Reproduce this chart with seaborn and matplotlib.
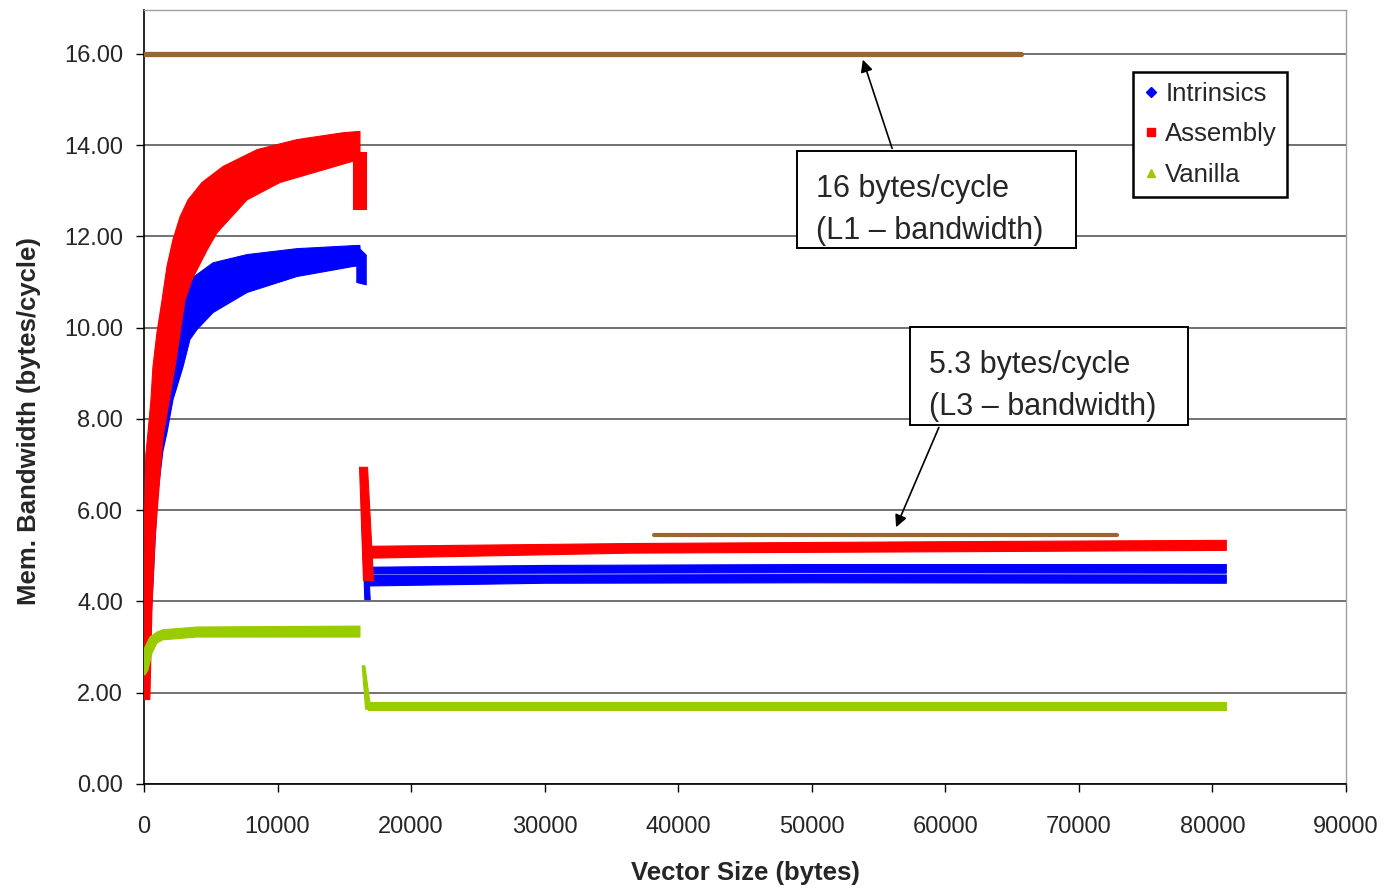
import matplotlib
matplotlib.use("Agg")
import matplotlib.pyplot as plt
import seaborn as sns
import pandas as pd
from matplotlib.patches import Rectangle
from matplotlib.lines import Line2D

# values: vector size (bytes) -> bandwidth (bytes/cycle)
# each series is a dense cloud of points, kept here as its upper / lower edge

# Intrinsics
intr_hi_x = [0, 300, 1000, 2000, 3000, 3670, 5170, 7710, 11450, 15950, 16170]
intr_hi_y = [4.5, 7.4, 9.4, 10.5, 10.9, 11.1, 11.42, 11.6, 11.73, 11.8, 11.8]
intr_lo_x = [0, 300, 600, 1000, 1420, 1720, 2170, 2920, 3440, 3970, 5170, 7710, 11450, 15650, 16170]
intr_lo_y = [2.05, 2.3, 4.0, 6.3, 7.3, 7.7, 8.42, 9.14, 9.74, 9.96, 10.33, 10.77, 11.12, 11.34, 11.36]
intr_tail_x = [15900, 16600]
intr_tail_lo = [11.0, 10.95]
intr_tail_hi = [11.8, 11.6]
intr_drop_y = [4.05, 5.95]
intr_drop_left = [16500, 16250]
intr_drop_right = [16900, 16550]
intr_flat_x = [16700, 30000, 50000, 81000]
intr_flat_lo1 = [4.35, 4.41, 4.42, 4.41]
intr_flat_hi1 = [4.59, 4.59, 4.60, 4.59]
intr_flat_lo2 = [4.62, 4.63, 4.64, 4.63]
intr_flat_hi2 = [4.76, 4.80, 4.82, 4.82]

# Assembly
asm_hi_x = [0, 50, 130, 300, 520, 670, 970, 1350, 1720, 2170, 2700, 3300, 4340, 5910, 8460, 11450, 14900, 16170]
asm_hi_y = [5.0, 6.0, 7.2, 7.7, 8.42, 9.14, 9.89, 10.6, 11.34, 11.93, 12.43, 12.8, 13.18, 13.53, 13.9, 14.12, 14.27, 14.3]
asm_lo_x = [0, 430, 450, 600, 820, 1420, 2320, 3070, 3590, 4720, 5470, 7710, 10180, 13930, 15570, 16170]
asm_lo_y = [1.85, 1.85, 2.0, 3.9, 5.35, 7.6, 9.14, 10.6, 11.05, 11.7, 12.08, 12.8, 13.18, 13.5, 13.64, 13.7]
asm_tail_x = [15650, 16600]
asm_tail_lo = [12.6, 12.6]
asm_tail_hi = [13.85, 13.85]
asm_drop_y = [4.47, 6.95]
asm_drop_left = [16400, 16100]
asm_drop_right = [17150, 16700]
asm_flat_x = [17000, 36400, 60000, 81000]
asm_flat_lo = [4.96, 5.07, 5.10, 5.13]
asm_flat_hi = [5.22, 5.28, 5.32, 5.35]

# Vanilla
van_hi_x = [0, 70, 450, 970, 1420, 3970, 16170]
van_hi_y = [2.9, 3.0, 3.22, 3.33, 3.38, 3.44, 3.46]
van_lo_x = [0, 70, 300, 600, 970, 1420, 3970, 16170]
van_lo_y = [2.4, 2.39, 2.5, 2.87, 3.09, 3.16, 3.22, 3.22]
van_drop_y = [1.65, 2.6]
van_drop_left = [16550, 16300]
van_drop_right = [16950, 16500]
van_flat_x = [16800, 81000]
van_flat_lo = [1.62, 1.62]
van_flat_hi = [1.80, 1.80]

# reference bandwidth lines
l1_x = [0, 65660]
l1_y = [16.0, 16.0]
l3_x = [38180, 72850]
l3_y = [5.46, 5.46]

series_names = ["Intrinsics", "Assembly", "Vanilla"]
colors = {"Intrinsics": "#0000FF", "Assembly": "#FF0000", "Vanilla": "#99CC00"}
brown = "#996633"

sns.set_theme(style="white")
plt.rcParams["font.family"] = ["Liberation Sans", "DejaVu Sans"]

fig = plt.figure(figsize=(13.88, 8.89), dpi=100)
ax = fig.add_axes([144 / 1388, 1 - 784 / 889, 1202 / 1388, 774 / 889])


def cloud(hx, hy, lx, ly, c, z):
    # outline: upper edge left to right, lower edge back
    ax.fill(list(hx) + list(lx)[::-1], list(hy) + list(ly)[::-1], color=c, lw=0.8, ec=c, zorder=z)


def band(x, lo, hi, c, z):
    ax.fill_between(x, lo, hi, color=c, lw=0.8, edgecolor=c, zorder=z)


def drop(y, left, right, c, z):
    ax.fill_betweenx(y, left, right, color=c, lw=0.8, edgecolor=c, zorder=z)


c = colors["Intrinsics"]
cloud(intr_hi_x, intr_hi_y, intr_lo_x, intr_lo_y, c, 2)
band(intr_tail_x, intr_tail_lo, intr_tail_hi, c, 2)
drop(intr_drop_y, intr_drop_left, intr_drop_right, c, 2)
band(intr_flat_x, intr_flat_lo1, intr_flat_hi1, c, 2)
band(intr_flat_x, intr_flat_lo2, intr_flat_hi2, c, 2)

c = colors["Assembly"]
cloud(asm_hi_x, asm_hi_y, asm_lo_x, asm_lo_y, c, 3)
band(asm_tail_x, asm_tail_lo, asm_tail_hi, c, 3)
drop(asm_drop_y, asm_drop_left, asm_drop_right, c, 3)
band(asm_flat_x, asm_flat_lo, asm_flat_hi, c, 3)

c = colors["Vanilla"]
cloud(van_hi_x, van_hi_y, van_lo_x, van_lo_y, c, 4)
drop(van_drop_y, van_drop_left, van_drop_right, c, 4)
band(van_flat_x, van_flat_lo, van_flat_hi, c, 4)

refs = pd.DataFrame({"x": l1_x + l3_x, "y": l1_y + l3_y, "line": ["L1", "L1", "L3", "L3"]})
sns.lineplot(data=refs[refs.line == "L1"], x="x", y="y", color=brown, lw=3.8, ax=ax, zorder=5)
sns.lineplot(data=refs[refs.line == "L3"], x="x", y="y", color=brown, lw=3.0, ax=ax, zorder=5)

# annotation boxes
ax.add_patch(Rectangle((48892, 11.75), 69781 - 48892, 13.87 - 11.75, fc="white", ec="black", lw=1.4, zorder=6))
ax.text(50350, 12.58, "16 bytes/cycle\n(L1 – bandwidth)", fontsize=22, va="center", ha="left",
        linespacing=1.55, zorder=7)
ax.annotate("", xy=(53759, 15.93), xytext=(56080, 13.87),
            arrowprops=dict(arrowstyle="-|>", color="black", lw=1.2, mutation_scale=18), zorder=7)

ax.add_patch(Rectangle((57352, 7.87), 78167 - 57352, 10.02 - 7.87, fc="white", ec="black", lw=1.4, zorder=6))
ax.text(58750, 8.72, "5.3 bytes/cycle\n(L3 – bandwidth)", fontsize=22, va="center", ha="left",
        linespacing=1.55, zorder=7)
ax.annotate("", xy=(56229, 5.57), xytext=(59599, 7.87),
            arrowprops=dict(arrowstyle="-|>", color="black", lw=1.2, mutation_scale=18), zorder=7)

# axes
ax.set_xlim(0, 90000)
ax.set_ylim(0, 16.96)
ax.set_xticks(range(0, 90001, 10000))
ax.set_yticks([0, 2, 4, 6, 8, 10, 12, 14, 16])
ax.set_yticklabels([f"{v:.2f}" for v in ax.get_yticks()])
ax.yaxis.grid(True, color="#666666", lw=1.3, zorder=0)
ax.set_axisbelow(True)
ax.tick_params(axis="both", which="major", labelsize=17, length=6, width=1, color="black",
               direction="out", left=True, bottom=True)
ax.tick_params(axis="y", pad=9)
ax.tick_params(axis="x", pad=17)
for s in ["left", "bottom"]:
    ax.spines[s].set_color("black")
    ax.spines[s].set_linewidth(1.2)
for s in ["top", "right"]:
    ax.spines[s].set_color("#a0a0a0")
    ax.spines[s].set_linewidth(1.0)

ax.set_xlabel("Vector Size (bytes)", fontsize=18.5, fontweight="bold")
ax.set_ylabel("Mem. Bandwidth (bytes/cycle)", fontsize=18.5, fontweight="bold")
ax.xaxis.set_label_coords(0.5, -0.1)
ax.yaxis.set_label_coords(-0.086, 0.469)

handles = [
    Line2D([], [], ls="", marker="D", markersize=5, color=colors["Intrinsics"]),
    Line2D([], [], ls="", marker="s", markersize=6, color=colors["Assembly"]),
    Line2D([], [], ls="", marker="^", markersize=6, color=colors["Vanilla"]),
]
leg = ax.legend(handles, series_names, loc="upper left", bbox_to_anchor=(0.823, 0.92),
                frameon=True, fancybox=False, edgecolor="black", framealpha=1,
                handlelength=0.6, handletextpad=0.27, borderpad=0.38, labelspacing=0.65,
                borderaxespad=0, prop={"size": 18.5})
leg.get_frame().set_linewidth(1.8)
leg.set_zorder(8)

fig.savefig("out.png", dpi=100)
